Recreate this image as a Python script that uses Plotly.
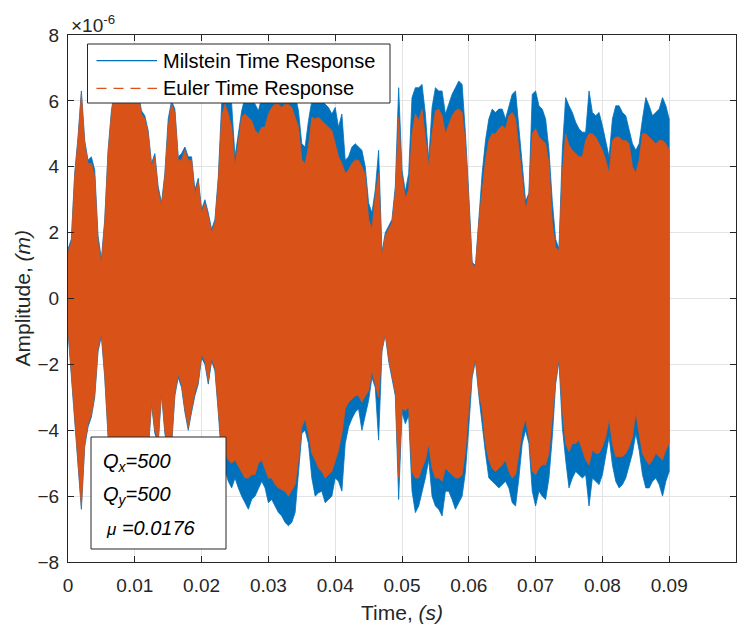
import numpy as np
import plotly.graph_objects as go

# Sampling instants of the envelope readings (ms), 0.5 ms apart from 0 to 90 ms
t_ms = np.arange(0, 90.5, 0.5)

# Milstein scheme: upper / lower envelope of the response (x 1e-6 m)
milstein_upper = [
    1.5, 1.8, 3.8, 4.9, 6.3, 4.8, 4.2, 4.3, 3.9, 1.9,
    1.2, 2.4, 4.5, 5.7, 6.4, 6.5, 6.3, 6.6, 6.5, 6.4,
    6.6, 6.3, 5.7, 5.55, 5.1, 4.1, 4.4, 3.4, 2.9, 3.8,
    5.45, 6.0, 5.75, 4.3, 4.4, 4.6, 4.3, 4.3, 3.3, 3.65,
    2.7, 3.0, 2.6, 2.1, 2.4, 3.7, 5.9, 6.3, 6.3, 5.9,
    4.3, 5.0, 5.7, 6.1, 6.3, 6.1, 5.9, 5.7, 6.1, 6.3,
    6.3, 6.3, 6.4, 6.4, 6.4, 6.5, 6.5, 6.4, 6.2, 5.7,
    4.7, 4.6, 5.4, 6.0, 6.1, 6.1, 6.0, 5.9, 5.8, 5.6,
    5.8, 5.2, 5.6, 4.2, 4.3, 4.6, 4.7, 4.6, 4.5, 4.0,
    2.9, 2.6, 3.3, 4.5, 1.4, 2.0, 2.2, 2.4, 3.4, 6.4,
    3.9, 3.25, 3.8, 6.1, 6.4, 6.4, 6.5, 5.6, 4.2, 5.8,
    6.4, 6.3, 6.3, 5.6, 5.9, 6.2, 6.4, 6.6, 6.5, 5.0,
    3.15, 1.1, 1.0, 2.4, 3.8, 4.8, 5.45, 5.75, 5.65, 5.75,
    5.75, 5.45, 5.85, 6.2, 6.3, 5.25, 4.0, 2.95, 3.2, 6.2,
    6.3, 5.85, 5.75, 5.45, 4.5, 2.95, 1.8, 1.5, 4.5, 6.1,
    5.85, 5.65, 5.35, 5.15, 5.05, 5.05, 6.3, 5.65, 5.55, 5.65,
    5.25, 4.8, 4.3, 5.45, 5.85, 5.85, 5.65, 5.55, 5.15, 4.7,
    4.5, 4.7, 5.45, 6.1, 5.85, 5.55, 5.65, 5.75, 6.1, 5.85,
    5.45,
]
milstein_lower = [
    -1.0, -2.5, -3.8, -5.1, -6.4, -4.5, -3.9, -3.6, -3.0, -1.6,
    -1.15, -2.4, -4.2, -5.7, -6.3, -6.4, -6.1, -6.5, -6.4, -6.3,
    -6.5, -6.1, -5.6, -5.1, -4.7, -3.2, -4.1, -4.4, -2.9, -4.1,
    -4.7, -4.5, -2.95, -2.4, -2.7, -3.45, -4.0, -3.45, -2.95, -2.6,
    -1.8, -2.0, -2.6, -1.9, -2.2, -3.45, -4.9, -5.2, -5.55, -5.75,
    -5.45, -5.75, -6.0, -6.2, -6.4, -6.1, -6.0, -5.75, -5.55, -5.75,
    -6.2, -6.1, -6.3, -6.5, -6.6, -6.8, -6.9, -6.8, -6.5, -5.45,
    -4.1, -4.0, -4.4, -5.45, -6.0, -5.9, -5.85, -6.2, -6.1, -6.0,
    -5.45, -5.55, -5.85, -4.4, -3.9, -3.65, -3.45, -3.35, -4.0, -3.55,
    -3.1, -2.4, -2.7, -4.3, -1.6, -1.1, -1.9, -2.4, -2.95, -6.1,
    -3.45, -3.8, -3.55, -5.85, -6.5, -6.3, -5.85, -5.45, -4.9, -6.0,
    -6.3, -6.4, -6.6, -5.85, -5.85, -6.1, -6.4, -6.2, -6.0, -5.25,
    -3.9, -2.4, -1.9, -2.95, -3.9, -4.7, -5.45, -5.55, -5.65, -5.75,
    -5.65, -5.55, -5.75, -6.2, -6.3, -5.45, -4.4, -4.0, -4.4, -5.85,
    -6.3, -5.85, -6.0, -6.1, -5.45, -4.2, -2.6, -1.9, -3.9, -4.9,
    -5.75, -5.45, -5.25, -5.35, -5.45, -5.35, -6.3, -5.45, -5.55, -5.65,
    -5.35, -4.8, -4.2, -5.05, -5.55, -5.75, -5.65, -5.45, -5.05, -4.7,
    -4.1, -4.6, -5.35, -5.75, -5.75, -5.55, -5.45, -5.65, -6.0, -5.55,
    -5.25,
]

# Euler scheme: upper / lower envelope of the response (x 1e-6 m)
euler_upper = [
    1.4, 1.7, 3.7, 4.8, 6.2, 4.7, 4.1, 4.1, 3.7, 1.7,
    1.05, 2.3, 4.4, 5.6, 6.3, 6.4, 6.2, 6.5, 6.4, 6.3,
    6.5, 6.2, 5.6, 5.45, 5.0, 4.0, 4.3, 3.25, 2.8, 3.7,
    5.2, 5.9, 5.65, 4.2, 4.2, 4.5, 4.2, 4.2, 3.15, 3.55,
    2.6, 2.9, 2.5, 2.0, 2.3, 3.55, 5.5, 5.9, 5.6, 5.2,
    4.0, 4.7, 5.5, 5.6, 5.5, 5.4, 5.1, 5.0, 5.2, 5.2,
    5.6, 5.8, 5.9, 5.9, 5.8, 5.9, 5.9, 5.8, 5.5, 5.2,
    4.2, 4.1, 4.6, 5.5, 5.45, 5.5, 5.4, 5.3, 5.2, 5.1,
    4.7, 4.3, 4.1, 3.8, 3.9, 4.1, 4.2, 4.2, 4.0, 3.75,
    2.4, 2.1, 3.1, 3.8, 1.3, 1.9, 2.1, 2.3, 3.2, 5.5,
    3.7, 3.05, 3.3, 5.0, 5.6, 5.4, 5.75, 4.9, 4.0, 5.0,
    5.7, 5.75, 5.55, 5.0, 5.3, 5.55, 5.7, 5.75, 5.65, 4.7,
    2.9, 1.05, 0.95, 2.3, 3.25, 4.2, 4.8, 5.0, 5.0, 5.15,
    5.25, 5.15, 5.55, 5.65, 5.45, 4.6, 3.65, 2.7, 3.15, 5.0,
    5.15, 4.9, 4.8, 4.7, 4.1, 2.3, 1.55, 1.45, 3.8, 5.0,
    4.65, 4.5, 4.4, 4.3, 4.3, 4.8, 5.0, 5.0, 4.9, 4.7,
    4.5, 4.2, 3.8, 4.8, 4.9, 4.9, 4.8, 4.8, 4.7, 4.0,
    3.8, 4.2, 5.0, 5.0, 4.9, 4.8, 4.7, 4.8, 4.8, 4.7,
    4.5,
]
euler_lower = [
    -0.9, -2.4, -3.7, -5.0, -6.3, -4.4, -3.8, -3.5, -2.9, -1.5,
    -1.05, -2.3, -4.1, -5.6, -6.2, -6.3, -6.0, -6.4, -6.3, -6.2,
    -6.4, -6.0, -5.5, -5.0, -4.6, -3.1, -4.0, -4.3, -2.8, -4.0,
    -4.6, -4.4, -2.85, -2.3, -2.6, -3.35, -3.9, -3.35, -2.85, -2.5,
    -1.7, -1.9, -2.5, -1.8, -2.1, -3.35, -4.6, -4.7, -4.9, -5.0,
    -4.9, -5.1, -5.25, -5.45, -5.45, -5.35, -5.35, -5.0, -4.9, -5.15,
    -5.45, -5.45, -5.65, -5.75, -5.8, -5.85, -6.0, -5.85, -5.65, -4.9,
    -3.9, -3.65, -4.1, -4.7, -4.9, -5.15, -5.25, -5.45, -5.35, -5.25,
    -4.9, -4.6, -4.1, -3.35, -3.15, -3.05, -2.95, -2.95, -3.15, -2.95,
    -2.8, -2.2, -2.6, -3.0, -1.55, -1.05, -1.8, -2.3, -2.85, -5.45,
    -3.35, -3.4, -3.3, -5.25, -5.45, -5.45, -5.15, -4.9, -4.4, -5.15,
    -5.45, -5.45, -5.55, -5.15, -5.25, -5.35, -5.45, -5.45, -5.35, -4.6,
    -3.3, -2.3, -1.8, -2.85, -3.35, -4.4, -4.9, -5.15, -5.25, -5.15,
    -5.05, -4.9, -5.25, -5.45, -5.35, -4.7, -4.0, -3.65, -4.2, -5.25,
    -5.35, -5.15, -5.05, -5.05, -4.7, -3.65, -2.5, -1.8, -3.35, -4.4,
    -4.65, -4.4, -4.4, -4.3, -4.6, -4.9, -5.05, -4.6, -4.7, -4.7,
    -4.5, -4.2, -3.65, -4.4, -4.8, -4.8, -4.8, -4.7, -4.5, -4.2,
    -3.45, -4.1, -4.7, -4.9, -5.05, -4.9, -4.7, -4.8, -4.9, -4.6,
    -4.4,
]

x_ticks = [0, 0.01, 0.02, 0.03, 0.04, 0.05, 0.06, 0.07, 0.08, 0.09, 0.1]
x_tick_text = ["0", "0.01", "0.02", "0.03", "0.04", "0.05", "0.06",
               "0.07", "0.08", "0.09", "0.1"]
y_ticks = [-8, -6, -4, -2, 0, 2, 4, 6, 8]

series = [
    ("Milstein Time Response", "#0072BD", "solid", milstein_upper, milstein_lower),
    ("Euler Time Response", "#D95319", "10px,7px", euler_upper, euler_lower),
]
params = ["Q<sub>x</sub>=500", "Q<sub>y</sub>=500",
          "<span style='font-size:17px'>μ</span> =0.0176"]

FONT = "Liberation Sans, Arial, Helvetica, sans-serif"
INK = "#262626"

t_s = t_ms / 1000.0
fig = go.Figure()
for name, color, dash, upper, lower in series:
    # dense oscillation drawn as the band between its envelopes
    xs = np.concatenate([t_s, t_s[::-1]])
    ys = np.concatenate([np.asarray(upper), np.asarray(lower)[::-1]])
    fig.add_trace(go.Scatter(
        x=xs, y=ys, mode="lines", fill="toself", fillcolor=color,
        line=dict(color=color, width=0.8), name=name, showlegend=False,
        hoverinfo="skip",
    ))

# plot area in pixels
L, R, T, B = 68, 736, 35, 562
W, H = 749, 630
pw, ph = R - L, B - T


def px(x):
    return (x - L) / pw


def py(y):
    return 1 - (y - T) / ph


shapes = []
annotations = []

# legend box
shapes.append(dict(type="rect", xref="paper", yref="paper",
                   x0=px(87.5), x1=px(390), y0=py(103), y1=py(44),
                   fillcolor="white", line=dict(color=INK, width=1), layer="above"))
row_y = [60.7, 88.3]
for (name, color, dash, _, _), ry in zip(series, row_y):
    shapes.append(dict(type="line", xref="paper", yref="paper",
                       x0=px(96.5), x1=px(157), y0=py(ry), y1=py(ry),
                       line=dict(color=color, width=1.2, dash=dash), layer="above"))
    annotations.append(dict(xref="paper", yref="paper", x=px(161), y=py(ry),
                            text=name, showarrow=False, xanchor="left",
                            yanchor="middle",
                            font=dict(family=FONT, size=20, color="black")))

# parameter box
shapes.append(dict(type="rect", xref="paper", yref="paper",
                   x0=px(91), x1=px(226), y0=py(549), y1=py(437),
                   fillcolor="white", line=dict(color=INK, width=1), layer="above"))
for txt, ly, lx in zip(params, [462, 495, 528], [101, 101, 104]):
    annotations.append(dict(xref="paper", yref="paper", x=px(lx), y=py(ly),
                            text="<i>" + txt + "</i>", showarrow=False,
                            xanchor="left", yanchor="middle",
                            font=dict(family=FONT, size=20, color="black")))

# axis titles and exponent
annotations.append(dict(xref="paper", yref="paper", x=0.5, y=py(612),
                        text="Time, <i>(s)</i>", showarrow=False,
                        xanchor="center", yanchor="middle",
                        font=dict(family=FONT, size=21, color=INK)))
annotations.append(dict(xref="paper", yref="paper", x=px(22), y=py(298.5),
                        text="Amplitude, <i>(m)</i>", showarrow=False,
                        textangle=-90, xanchor="center", yanchor="middle",
                        font=dict(family=FONT, size=21, color=INK)))
annotations.append(dict(xref="paper", yref="paper", x=px(69), y=py(24),
                        text="×10<sup>-6</sup>", showarrow=False,
                        xanchor="left", yanchor="middle",
                        font=dict(family=FONT, size=19, color=INK)))

axis_common = dict(
    showline=True, linecolor=INK, linewidth=1, mirror="allticks",
    ticks="inside", ticklen=6, tickcolor=INK, tickwidth=1,
    showgrid=True, gridcolor="#e3e3e3", gridwidth=1, zeroline=False,
    tickfont=dict(family=FONT, size=19, color=INK), automargin=False,
)

fig.update_layout(
    width=W, height=H,
    margin=dict(l=L, r=W - R, t=T, b=H - B),
    paper_bgcolor="white", plot_bgcolor="white",
    showlegend=False,
    shapes=shapes, annotations=annotations,
    xaxis=dict(range=[0, 0.1], tickvals=x_ticks, ticktext=x_tick_text,
               ticklabelstandoff=6, **axis_common),
    yaxis=dict(range=[-8, 8], tickvals=y_ticks, ticklabelstandoff=4,
               **axis_common),
)

fig.write_html("out.html")
